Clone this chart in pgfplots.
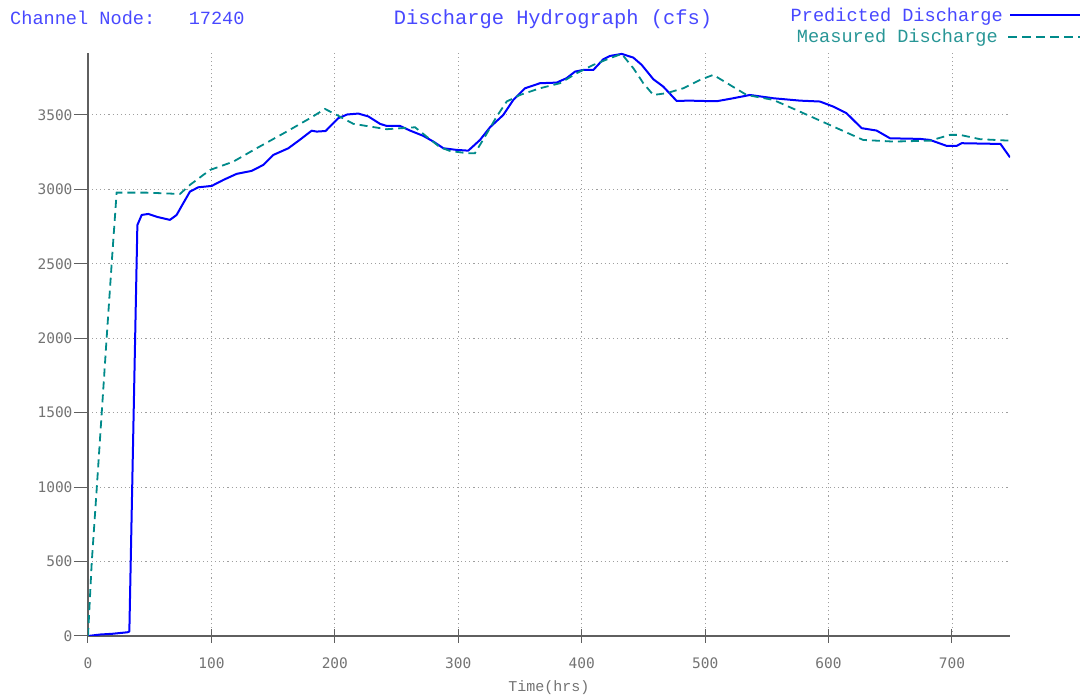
\documentclass[border=0pt]{standalone}
\usepackage{pgfplots}
\pgfplotsset{compat=1.18}
\usepackage{fontspec}
\setmainfont{Liberation Mono}
\setmonofont{Liberation Mono}
\newfontfamily\tickfont{DejaVu Sans Mono}

\definecolor{predblue}{RGB}{0,0,255}
\definecolor{meas}{RGB}{0,138,138}
\definecolor{titleblue}{RGB}{72,72,255}
\definecolor{meastext}{RGB}{40,150,150}
\definecolor{axisgray}{RGB}{95,95,95}
\definecolor{labelgray}{RGB}{115,115,115}

% predicted discharge (cfs) vs time (hrs)
\pgfplotstableread{
t v
0 0
5 5
10 10
20 15
32 25
33.5 30
40 2760
43.5 2828
48.9 2835
56 2815
66.4 2795
71.8 2828
76 2890
82.6 2985
89.4 3014
100.2 3023
109.6 3063
120.4 3104
132.6 3124
142 3164
150.1 3231
162.3 3276
171.8 3334
181.2 3394
185.3 3388
192.5 3392
202.8 3478
210 3503
219 3509
227.1 3490
236.6 3440
242 3426
252.8 3426
260.9 3395
271.7 3359
279.8 3321
287.9 3276
298.7 3265
308.1 3260
317.6 3332
325.7 3417
336.5 3500
344.6 3601
354.1 3679
366.2 3713
379.7 3717
387.8 3747
394.6 3791
401.3 3802
409.4 3802
417.5 3874
422.9 3896
432.4 3910
441.8 3885
448.6 3836
458 3740
466.1 3690
476.9 3594
487.7 3596
495.8 3594
509.4 3592
522.8 3612
536.3 3634
555.2 3612
576.8 3596
593 3590
603.8 3556
614.6 3511
626.8 3411
638.9 3395
649.8 3343
674 3339
682.2 3332
695.7 3292
703.8 3292
707.8 3310
739.3 3305
747 3215
}\predicted

% measured discharge
\pgfplotstableread{
t v
0 0
3 490
7 981
11.1 1496
15.1 2000
19.2 2504
23.2 2978
47.5 2978
74.5 2969
82.6 3030
98.8 3130
117.7 3186
136.6 3276
161 3388
179.9 3478
192 3540
201.5 3500
215 3440
242 3404
265 3417
274.4 3354
285.2 3283
293.3 3258
306.8 3243
313.5 3243
321.6 3354
331.1 3489
339.2 3590
350 3634
366.2 3679
382.4 3713
395.9 3780
409.4 3836
422.9 3881
432.4 3910
441.8 3814
449.9 3713
458 3634
468.8 3646
482.3 3679
495.8 3735
506.6 3769
533.6 3634
555.2 3601
576.8 3522
603.8 3422
628 3332
652.4 3321
682.2 3327
698.4 3366
706.5 3366
722.7 3337
747 3327
}\measured

\begin{document}
\begin{tikzpicture}[x=1pt,y=1pt]
\useasboundingbox (-88,-64) rectangle (994,636);
\begin{axis}[
  at={(0,0)}, anchor=south west,
  scale only axis, width=922pt, height=583pt,
  xmin=0, xmax=747, ymin=0, ymax=3916,
  axis x line*=bottom, axis y line*=left,
  axis line style={draw=axisgray, line width=1.3pt},
  xtick={0,100,...,700}, ytick={0,500,...,3500},
  minor tick num=0,
  xmajorgrids, ymajorgrids,
  major grid style={draw=gray!75, line width=0.9pt, dash pattern=on 1.1pt off 3pt},
  major tick length=14pt,
  xtick align=center, ytick align=outside,
  major tick style={draw=axisgray, line width=1pt, solid},
  /pgf/number format/assume math mode=true,
  /pgf/number format/1000 sep={},
  tick label style={font=\tickfont\fontsize{14.5}{16}\selectfont, text=labelgray},
  xticklabel style={anchor=center, yshift=-20pt},
  yticklabel style={anchor=east, xshift=2pt},
  xlabel={Time(hrs)},
  xlabel style={at={(axis description cs:0.5,0)}, anchor=center, yshift=-52pt,
    font=\fontsize{15}{17}\selectfont, text=labelgray},
]
\addplot[draw=predblue, line width=2pt, line join=round] table[x=t,y=v] {\predicted};
\addplot[draw=meas, line width=1.8pt, dash pattern=on 8pt off 5pt] table[x=t,y=v] {\measured};
\end{axis}
\node[anchor=base west, text=titleblue, font=\fontsize{18.6}{20}\selectfont, inner sep=0pt]
  at (-78,611) {Channel Node:\ \ \ 17240};
\node[anchor=base, text=titleblue, font=\fontsize{20.4}{22}\selectfont, inner sep=0pt]
  at (465,611) {Discharge Hydrograph (cfs)};
\node[anchor=base east, text=titleblue, font=\fontsize{18.6}{20}\selectfont, inner sep=0pt]
  at (915,614) {Predicted Discharge};
\node[anchor=base east, text=meastext, font=\fontsize{18.6}{20}\selectfont, inner sep=0pt]
  at (910,593) {Measured Discharge};
\draw[predblue, line width=2pt] (922,621) -- (992,621);
\draw[meas, line width=1.8pt, dash pattern=on 9pt off 5pt] (920,599) -- (992,599);
\end{tikzpicture}
\end{document}
